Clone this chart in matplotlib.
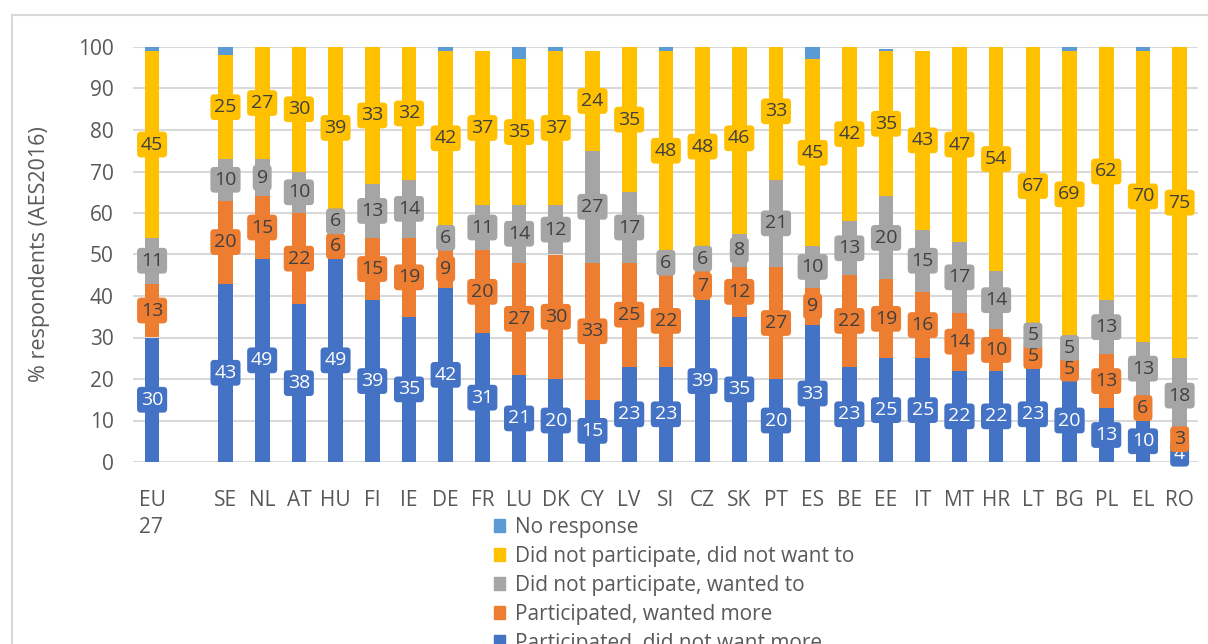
import numpy as np
import matplotlib
matplotlib.use("Agg")
import matplotlib.pyplot as plt
from matplotlib.patches import Rectangle, Patch

plt.rcParams["font.family"] = ["Open Sans", "DejaVu Sans"]

# countries, EU average first, then an empty slot
countries = ["EU\n27", "SE", "NL", "AT", "HU", "FI", "IE", "DE", "FR", "LU", "DK", "CY", "LV",
             "SI", "CZ", "SK", "PT", "ES", "BE", "EE", "IT", "MT", "HR", "LT", "BG", "PL", "EL", "RO"]

did_not_want_more = [30, 43, 49, 38, 49, 39, 35, 42, 31, 21, 20, 15, 23, 23, 39, 35, 20, 33, 23, 25,
                     25, 22, 22, 23, 20, 13, 10, 4]
wanted_more = [13, 20, 15, 22, 6, 15, 19, 9, 20, 27, 30, 33, 25, 22, 7, 12, 27, 9, 22, 19,
               16, 14, 10, 5, 5, 13, 6, 3]
np_wanted = [11, 10, 9, 10, 6, 13, 14, 6, 11, 14, 12, 27, 17, 6, 6, 8, 21, 10, 13, 20,
             15, 17, 14, 5, 5, 13, 13, 18]
np_not_want = [45, 25, 27, 30, 39, 33, 32, 42, 37, 35, 37, 24, 35, 48, 48, 46, 33, 45, 42, 35,
               43, 47, 54, 67, 69, 62, 70, 75]
no_response = [1, 3, 0, 0, 0, 0, 0, 1, 0, 3, 1, 0, 1, 1, 0, 0, 0, 3, 0, 0.5,
               0, 0, 0, 0, 2, 0, 2, 0]

series = [
    ("Participated, did not want more", did_not_want_more, "#4472C4", "white", True),
    ("Participated, wanted more", wanted_more, "#ED7D31", "#404040", True),
    ("Did not participate, wanted to", np_wanted, "#A5A5A5", "#404040", True),
    ("Did not participate, did not want to", np_not_want, "#FFC000", "#404040", True),
    ("No response", no_response, "#5B9BD5", "#404040", False),
]

W, H = 1208, 644
fig = plt.figure(figsize=(W / 100, H / 100), dpi=100)
ax = fig.add_axes([133 / W, 1 - 462 / H, (1198 - 133) / W, (462 - 47) / H])

xs = np.array([0] + list(range(2, 2 + len(countries) - 1)))
bottom = np.zeros(len(countries))
handles = []
for name, vals, col, tcol, show in series:
    vals = np.array(vals, dtype=float)
    ax.bar(xs, vals, bottom=bottom, width=0.4, color=col, zorder=2)
    if show:
        for x, b, v in zip(xs, bottom, vals):
            ax.text(x, b + v / 2, f"{int(v)}", ha="center", va="center", fontsize=14,
                    color=tcol, zorder=3,
                    bbox=dict(boxstyle="round,pad=0.2", fc=col, ec="none"))
    bottom += vals
    handles.append(Patch(color=col, label=name))

ax.set_xlim(-0.52, 28.5)
ax.set_ylim(0, 100)
ax.set_yticks(range(0, 101, 10))
ax.set_xticks(xs)
ax.set_xticklabels(countries, ha="center", multialignment="left", linespacing=1.4)
ax.tick_params(axis="both", length=0, labelsize=15, colors="#595959")
ax.tick_params(axis="x", pad=20)
ax.tick_params(axis="y", pad=14)
ax.grid(axis="y", color="#d9d9d9", linewidth=1.5, zorder=0)
for s in ax.spines.values():
    s.set_visible(False)
ax.set_ylabel("% respondents (AES2016)", fontsize=15.5, color="#595959", labelpad=20)

leg = fig.legend(handles=handles[::-1], loc="upper left", bbox_to_anchor=(494 / W, 1 - 517 / H),
                 frameon=False, fontsize=15, handlelength=0.55, handleheight=0.55,
                 handletextpad=0.45, labelspacing=0.38, borderpad=0, borderaxespad=0)
for t in leg.get_texts():
    t.set_color("#595959")

fig.add_artist(Rectangle((12 / W, -0.1), 1.2, 1.1 - 15 / H, transform=fig.transFigure,
                         fill=False, ec="#d9d9d9", lw=1.5))

fig.savefig("out.png", dpi=100)
